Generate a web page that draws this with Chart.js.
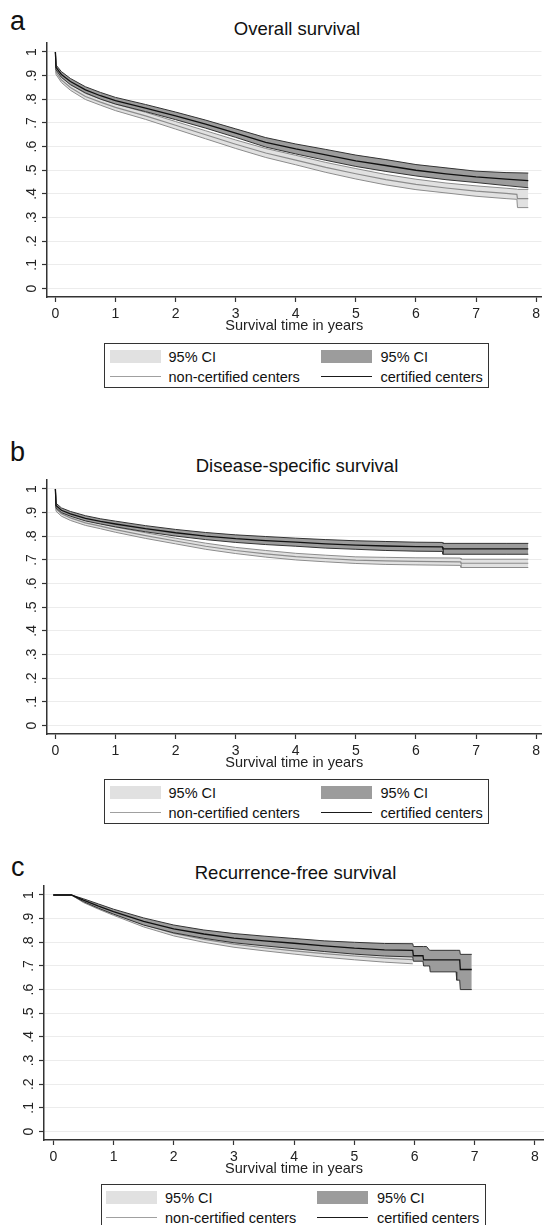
<!DOCTYPE html>
<html>
<head>
<meta charset="utf-8">
<script src="https://cdn.jsdelivr.net/npm/chart.js@4/dist/chart.umd.min.js"></script>
<style>
  html, body { margin: 0; padding: 0; background: #fff; }
  #page { position: relative; width: 544px; height: 1225px; overflow: hidden;
          font-family: "Liberation Sans", Arial, sans-serif; color: #111; }
  .panel { position: absolute; left: 0; width: 544px; height: 298px; }
  .letter { position: absolute; font-size: 27px; line-height: 1; }
  .title { position: absolute; font-size: 18.5px; line-height: 1; text-align: center; white-space: nowrap; }
  .legend { position: absolute; width: 385px; height: 45px; box-sizing: border-box;
            border: 1.5px solid #333; background: #fff; }
  .legend .sw { position: absolute; height: 13px; }
  .legend .ln { position: absolute; height: 1.3px; }
  .legend .tx { position: absolute; font-size: 14.5px; line-height: 16px; white-space: nowrap; color: #111; }
</style>
</head>
<body>
<div id="page"></div>
<script>
// ---- labels ----
const panelLetters = ['a', 'b', 'c'];
const panelTitles = ['Overall survival', 'Disease-specific survival', 'Recurrence-free survival'];
const axisTitle = 'Survival time in years';
const legendLabels = ['95% CI', '95% CI', 'non-certified centers', 'certified centers'];
const xTickValues = [0, 1, 2, 3, 4, 5, 6, 7, 8];
const yTickValues = [0, 0.1, 0.2, 0.3, 0.4, 0.5, 0.6, 0.7, 0.8, 0.9, 1];
const yTickLabels = ['0', '.1', '.2', '.3', '.4', '.5', '.6', '.7', '.8', '.9', '1'];

// ---- a: overall survival ----
const osCertTimes = [0, 0.01, 0.1, 0.25, 0.5, 0.75, 1, 1.5, 2, 2.5, 3, 3.5, 4, 4.5, 5, 5.5, 6, 6.5, 7, 7.5, 7.87];
const osCertEst   = [1, 0.935, 0.905, 0.875, 0.84, 0.815, 0.794, 0.763, 0.73, 0.695, 0.657, 0.618, 0.59, 0.565, 0.54, 0.52, 0.5, 0.485, 0.472, 0.462, 0.456];
const osCertUpper = [1, 0.945, 0.917, 0.888, 0.853, 0.829, 0.808, 0.778, 0.746, 0.712, 0.675, 0.638, 0.611, 0.588, 0.564, 0.545, 0.524, 0.51, 0.496, 0.49, 0.488];
const osCertLower = [1, 0.925, 0.893, 0.862, 0.827, 0.801, 0.78, 0.748, 0.714, 0.678, 0.639, 0.598, 0.569, 0.542, 0.516, 0.495, 0.476, 0.46, 0.448, 0.435, 0.426];
const osNonTimes  = [0, 0.01, 0.1, 0.25, 0.5, 0.75, 1, 1.5, 2, 2.5, 3, 3.5, 4, 4.5, 5, 5.5, 6, 6.5, 7, 7.5, 7.68, 7.69, 7.87];
const osNonEst    = [1, 0.915, 0.882, 0.85, 0.812, 0.788, 0.766, 0.73, 0.69, 0.65, 0.61, 0.573, 0.543, 0.512, 0.485, 0.46, 0.44, 0.425, 0.412, 0.402, 0.398, 0.38, 0.38];
const osNonUpper  = [1, 0.925, 0.893, 0.862, 0.825, 0.801, 0.78, 0.745, 0.706, 0.667, 0.628, 0.592, 0.563, 0.533, 0.507, 0.482, 0.462, 0.446, 0.434, 0.424, 0.42, 0.419, 0.419];
const osNonLower  = [1, 0.905, 0.871, 0.838, 0.799, 0.775, 0.752, 0.715, 0.674, 0.633, 0.592, 0.554, 0.523, 0.491, 0.463, 0.438, 0.418, 0.404, 0.39, 0.38, 0.377, 0.342, 0.342];

// ---- b: disease-specific survival ----
const dssCertTimes = [0, 0.01, 0.1, 0.25, 0.5, 0.75, 1, 1.5, 2, 2.5, 3, 3.5, 4, 4.5, 5, 5.5, 6, 6.44, 6.45, 7, 7.5, 7.87];
const dssCertEst   = [1, 0.93, 0.91, 0.895, 0.876, 0.863, 0.852, 0.832, 0.815, 0.801, 0.79, 0.782, 0.775, 0.768, 0.763, 0.759, 0.756, 0.755, 0.747, 0.747, 0.747, 0.747];
const dssCertUpper = [1, 0.94, 0.92, 0.905, 0.887, 0.874, 0.864, 0.845, 0.829, 0.816, 0.806, 0.799, 0.792, 0.786, 0.781, 0.778, 0.775, 0.774, 0.77, 0.77, 0.77, 0.77];
const dssCertLower = [1, 0.92, 0.9, 0.885, 0.865, 0.852, 0.84, 0.819, 0.801, 0.786, 0.774, 0.765, 0.758, 0.75, 0.745, 0.74, 0.737, 0.736, 0.724, 0.724, 0.724, 0.724];
const dssNonTimes  = [0, 0.01, 0.1, 0.25, 0.5, 0.75, 1, 1.5, 2, 2.5, 3, 3.5, 4, 4.5, 5, 5.5, 6, 6.74, 6.75, 7.87];
const dssNonEst    = [1, 0.915, 0.895, 0.878, 0.857, 0.843, 0.828, 0.803, 0.78, 0.758, 0.74, 0.726, 0.714, 0.706, 0.699, 0.696, 0.694, 0.692, 0.686, 0.686];
const dssNonUpper  = [1, 0.924, 0.905, 0.888, 0.867, 0.854, 0.839, 0.815, 0.792, 0.771, 0.753, 0.74, 0.728, 0.72, 0.713, 0.711, 0.709, 0.708, 0.703, 0.703];
const dssNonLower  = [1, 0.906, 0.885, 0.867, 0.846, 0.832, 0.817, 0.791, 0.768, 0.745, 0.727, 0.712, 0.7, 0.692, 0.685, 0.681, 0.679, 0.677, 0.668, 0.668];

// ---- c: recurrence-free survival ----
const rfsCertTimes = [0, 0.3, 0.5, 0.75, 1, 1.5, 2, 2.5, 3, 3.5, 4, 4.5, 5, 5.5, 5.97, 5.98, 6.14, 6.15, 6.2, 6.25, 6.26, 6.69, 6.7, 6.75, 6.76, 6.95];
const rfsCertEst   = [1, 1, 0.978, 0.953, 0.93, 0.888, 0.857, 0.835, 0.818, 0.806, 0.796, 0.785, 0.775, 0.768, 0.766, 0.743, 0.743, 0.726, 0.726, 0.726, 0.726, 0.726, 0.726, 0.726, 0.685, 0.685];
const rfsCertUpper = [1, 1, 0.984, 0.962, 0.94, 0.903, 0.873, 0.852, 0.837, 0.826, 0.816, 0.806, 0.8, 0.795, 0.794, 0.782, 0.782, 0.782, 0.782, 0.766, 0.766, 0.766, 0.766, 0.766, 0.749, 0.749];
const rfsCertLower = [1, 1, 0.972, 0.944, 0.919, 0.873, 0.84, 0.817, 0.798, 0.785, 0.773, 0.761, 0.75, 0.742, 0.738, 0.72, 0.72, 0.7, 0.7, 0.7, 0.675, 0.675, 0.64, 0.64, 0.6, 0.6];
const rfsNonTimes  = [0, 0.3, 0.5, 0.75, 1, 1.5, 2, 2.5, 3, 3.5, 4, 4.5, 5, 5.5, 5.97];
const rfsNonEst    = [1, 1, 0.973, 0.947, 0.922, 0.875, 0.838, 0.812, 0.792, 0.777, 0.764, 0.752, 0.742, 0.733, 0.727];
const rfsNonUpper  = [1, 1, 0.978, 0.954, 0.93, 0.885, 0.849, 0.824, 0.805, 0.79, 0.778, 0.767, 0.758, 0.75, 0.745];
const rfsNonLower  = [1, 1, 0.968, 0.94, 0.914, 0.865, 0.827, 0.8, 0.779, 0.764, 0.75, 0.737, 0.726, 0.716, 0.709];

// colours
const LIGHT_FILL = '#e1e1e1';
const DARK_FILL = '#9c9c9c';
const NON_LINE = '#8c8c8c';
const CERT_EDGE = '#333333';
const CERT_LINE = '#111111';
const AXIS_COLOR = '#333333';
const FONT = '"Liberation Sans", Arial, sans-serif';

// page layout of each panel (pixels)
const layout = [
  { top: 39,  left: 47, xMin: -0.14,  xMax: 8.09, letterTop: 8,   letterLeft: 10, titleBase: 36,    legendLeft: 104,   legendTop: 304 },
  { top: 476, left: 47, xMin: -0.14,  xMax: 8.09, letterTop: 439, letterLeft: 10, titleBase: 473,   legendLeft: 104,   legendTop: 303 },
  { top: 882, left: 44, xMin: -0.155, xMax: 8.15, letterTop: 854, letterLeft: 11, titleBase: 879.5, legendLeft: 100.5, legendTop: 302 }
];

const groups = [
  { cT: osCertTimes, cE: osCertEst, cU: osCertUpper, cL: osCertLower, nT: osNonTimes, nE: osNonEst, nU: osNonUpper, nL: osNonLower },
  { cT: dssCertTimes, cE: dssCertEst, cU: dssCertUpper, cL: dssCertLower, nT: dssNonTimes, nE: dssNonEst, nU: dssNonUpper, nL: dssNonLower },
  { cT: rfsCertTimes, cE: rfsCertEst, cU: rfsCertUpper, cL: rfsCertLower, nT: rfsNonTimes, nE: rfsNonEst, nU: rfsNonUpper, nL: rfsNonLower }
];

function pts(times, vals) {
  return times.map((t, i) => ({ x: t, y: vals[i] }));
}

// rotated y labels, placed with the y scale
const yLabelPlugin = {
  id: 'yLabels',
  afterDraw(chart) {
    const { ctx, chartArea, scales } = chart;
    ctx.save();
    ctx.font = '14px ' + FONT;
    ctx.fillStyle = '#222';
    ctx.textAlign = 'center';
    ctx.textBaseline = 'middle';
    yTickValues.forEach((v, i) => {
      ctx.save();
      ctx.translate(chartArea.left - 15, scales.y.getPixelForValue(v));
      ctx.rotate(-Math.PI / 2);
      ctx.fillText(yTickLabels[i], 0, 0);
      ctx.restore();
    });
    ctx.restore();
  }
};

const page = document.getElementById('page');

function addText(cls, text, styles) {
  const el = document.createElement('div');
  el.className = cls;
  el.textContent = text;
  Object.assign(el.style, styles);
  page.appendChild(el);
  return el;
}

function addLegend(p) {
  const box = document.createElement('div');
  box.className = 'legend';
  box.style.left = p.legendLeft + 'px';
  box.style.top = (p.top + p.legendTop) + 'px';
  const items = [
    { kind: 'sw', color: LIGHT_FILL, x: 4.5, tx: 63.5, row: 0, label: legendLabels[0] },
    { kind: 'sw', color: DARK_FILL, x: 215.5, tx: 275.5, row: 0, label: legendLabels[1] },
    { kind: 'ln', color: '#a0a0a0', x: 4.5, tx: 63.5, row: 1, label: legendLabels[2] },
    { kind: 'ln', color: '#1a1a1a', x: 215.5, tx: 275.5, row: 1, label: legendLabels[3] }
  ];
  const rowMid = [12.5, 32.5];
  items.forEach(it => {
    const mark = document.createElement('div');
    mark.className = it.kind;
    mark.style.left = it.x + 'px';
    mark.style.width = '51px';
    mark.style.background = it.color;
    mark.style.top = (it.kind === 'sw' ? rowMid[it.row] - 6.5 : rowMid[it.row] - 0.65) + 'px';
    box.appendChild(mark);
    const tx = document.createElement('div');
    tx.className = 'tx';
    tx.textContent = it.label;
    tx.style.left = it.tx + 'px';
    tx.style.top = (rowMid[it.row] - 8) + 'px';
    box.appendChild(tx);
  });
  page.appendChild(box);
}

layout.forEach((p, k) => {
  const g = groups[k];
  const plotCenter = (p.left + 544) / 2 + 1.5;

  addText('letter', panelLetters[k], { left: p.letterLeft + 'px', top: p.letterTop + 'px' });
  addText('title', panelTitles[k], { top: (p.titleBase - 0.8465 * 18.5) + 'px', left: '0px', width: (2 * plotCenter) + 'px' });

  const holder = document.createElement('div');
  holder.className = 'panel';
  holder.style.top = p.top + 'px';
  const canvas = document.createElement('canvas');
  canvas.width = 544;
  canvas.height = 298;
  holder.appendChild(canvas);
  page.appendChild(holder);

  const datasets = [
    // certified centers (drawn on top)
    { data: pts(g.cT, g.cL), borderColor: CERT_EDGE, borderWidth: 1, fill: false, order: 1 },
    { data: pts(g.cT, g.cU), borderColor: CERT_EDGE, borderWidth: 1, fill: 0, backgroundColor: DARK_FILL, order: 1 },
    { data: pts(g.cT, g.cE), borderColor: CERT_LINE, borderWidth: 1.3, fill: false, order: 0 },
    // non-certified centers
    { data: pts(g.nT, g.nL), borderColor: NON_LINE, borderWidth: 1, fill: false, order: 3 },
    { data: pts(g.nT, g.nU), borderColor: NON_LINE, borderWidth: 1, fill: 3, backgroundColor: LIGHT_FILL, order: 3 },
    { data: pts(g.nT, g.nE), borderColor: NON_LINE, borderWidth: 1.2, fill: false, order: 2 }
  ];

  new Chart(canvas, {
    type: 'line',
    data: { datasets },
    options: {
      responsive: false,
      animation: false,
      devicePixelRatio: 1,
      layout: { padding: { top: 4, right: 0, bottom: 0, left: 0 } },
      elements: { point: { radius: 0 }, line: { tension: 0 } },
      plugins: { legend: { display: false }, tooltip: { enabled: false }, title: { display: false } },
      scales: {
        x: {
          type: 'linear',
          min: p.xMin,
          max: p.xMax,
          afterBuildTicks: s => { s.ticks = xTickValues.map(v => ({ value: v })); },
          afterFit: s => { s.height = 40; },
          ticks: { autoSkip: false, maxRotation: 0, padding: 4, color: '#222', font: { family: FONT, size: 14 },
                   callback: v => String(v) },
          grid: { drawOnChartArea: false, drawTicks: true, tickLength: 5, tickColor: AXIS_COLOR, tickWidth: 1.2 },
          border: { display: true, color: AXIS_COLOR, width: 1.5 },
          title: { display: true, text: axisTitle, color: '#222', font: { family: FONT, size: 14.5 },
                   padding: { top: 0, bottom: 2.4 } }
        },
        y: {
          type: 'linear',
          min: -0.036,
          max: 1.038,
          afterBuildTicks: s => { s.ticks = yTickValues.map(v => ({ value: v })); },
          afterFit: s => { s.width = p.left; },
          ticks: { display: false },
          grid: { color: '#ececec', lineWidth: 1, drawTicks: true, tickLength: 5, tickColor: AXIS_COLOR, tickWidth: 1.2 },
          border: { display: true, color: AXIS_COLOR, width: 1.5 }
        }
      }
    },
    plugins: [yLabelPlugin]
  });

  addLegend(p);
});
</script>
</body>
</html>
